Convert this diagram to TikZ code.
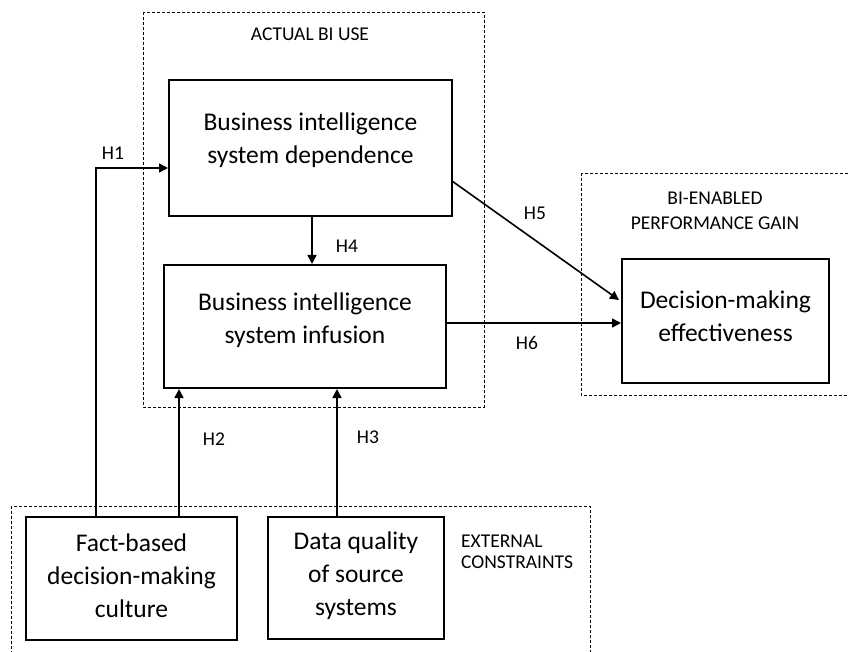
\documentclass[tikz,border=0pt]{standalone}
\usepackage{fontspec}
\setmainfont{Carlito}
\usetikzlibrary{arrows.meta}
\begin{document}
\begin{tikzpicture}[x=1pt,y=-1pt,
  box/.style={draw,line width=2pt,inner sep=0pt},
  btxt/.style={align=center,inner sep=0pt,font=\fontsize{25.5}{33}\selectfont},
  grp/.style={draw,dashed,line width=0.9pt,dash pattern=on 3pt off 2pt},
  lbl/.style={font=\fontsize{19.5}{21}\selectfont,align=center,inner sep=0pt},
  arr/.style={line width=1.6pt,-{Triangle[length=9pt,width=9pt]}}]
\useasboundingbox (0,0) rectangle (848,652);
\begin{scope}
\clip (0,0) rectangle (848,652);
\draw[grp] (143,12) rectangle (484,407);
\draw[grp] (581,173) rectangle (860,395);
\draw[grp] (11,506) rectangle (590,670);
\end{scope}
\node[lbl] (lact) at (310,34) {ACTUAL BI USE};
\node[lbl,font=\fontsize{19.5}{25}\selectfont] (lbi) at (715,211) {BI-ENABLED\\PERFORMANCE GAIN};
\node[lbl,align=left,anchor=west] (lext) at (461,552) {EXTERNAL\\CONSTRAINTS};

\node[box,minimum width=283pt,minimum height=136pt] (dep) at (310.5,148) {};
\node[btxt] (deptxt) at (310.5,140.5) {Business intelligence\\system dependence};

\node[box,minimum width=282pt,minimum height=123pt] (inf) at (305,326.5) {};
\node[btxt] (inftxt) at (305,320.5) {Business intelligence\\system infusion};

\node[box,minimum width=207pt,minimum height=124pt] (dec) at (725.5,321) {};
\node[btxt] (dectxt) at (725.5,316.5) {Decision-making\\effectiveness};

\node[box,minimum width=211pt,minimum height=123pt] (fact) at (131.5,578.5) {};
\node[btxt] (facttxt) at (131.5,576) {Fact-based\\decision-making\\culture};

\node[box,minimum width=176pt,minimum height=122pt] (data) at (356,578) {};
\node[btxt] (datatxt) at (356,576) {Data quality\\of source\\systems};

\coordinate (h1c) at (96,168);
\draw[arr] (fact.north -| h1c) -- (h1c) -- (dep.west |- h1c);
\node[lbl] (h1) at (113,153) {H1};

\coordinate (h2x) at (179,0);
\draw[arr] (fact.north -| h2x) -- (inf.south -| h2x);
\node[lbl] (h2) at (214,439) {H2};

\coordinate (h3x) at (337,0);
\draw[arr] (data.north -| h3x) -- (inf.south -| h3x);
\node[lbl] (h3) at (368,437) {H3};

\coordinate (h4x) at (312,0);
\draw[arr] (dep.south -| h4x) -- (inf.north -| h4x);
\node[lbl] (h4) at (347,246) {H4};

\coordinate (h5s) at (452,181);
\coordinate (h5e) at (619,300);
\draw[arr] (h5s) -- (h5e);
\node[lbl] (h5) at (535,213) {H5};

\coordinate (h6y) at (0,323);
\draw[arr] (inf.east |- h6y) -- (dec.west |- h6y);
\node[lbl] (h6) at (527,343) {H6};
\end{tikzpicture}
\end{document}
